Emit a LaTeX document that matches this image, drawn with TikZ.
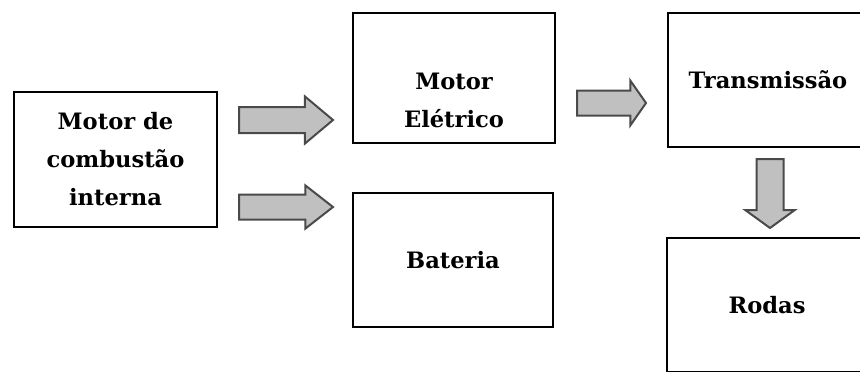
\documentclass[tikz,border=0pt]{standalone}
\usepackage{fontspec}
\setmainfont{DejaVu Serif}
\usetikzlibrary{shapes.arrows}
\definecolor{arrfill}{HTML}{C0C0C0}
\definecolor{arrline}{HTML}{4A4A4A}

\begin{document}
\begin{tikzpicture}[x=0.5pt, y=-0.5pt,
  txt/.style={align=center, font=\fontsize{11.3}{19}\selectfont\bfseries, inner sep=0pt},
  box/.style={txt, draw, line width=1.1pt, fill=white,
              minimum width=100pt, minimum height=67pt},
  blk/.style={single arrow, draw=arrline, fill=arrfill, line width=1pt,
              inner xsep=0pt, minimum width=1pt, anchor=tail},
]
\clip (0,0) rectangle (860,371);
% left column
\node[box, minimum width=101.5pt, minimum height=67.5pt] (mci) at (115.5,159.5) {Motor de\\combustão\\interna};
% middle column
\node[box, minimum width=101pt, minimum height=65pt] (mel) at (454,78) {};
\node[txt] (meltxt) at (454,100) {Motor\\Elétrico};
\node[box] (bat) at (453,260) {Bateria};
% right column
\node[box] (tra) at (768,80) {Transmissão};
\node[box] (rod) at (767,305) {Rodas};
% block arrows
\node[blk, minimum height=47pt, inner ysep=6pt, single arrow head extend=5.25pt, single arrow tip angle=80] (a1) at (238,120) {};
\node[blk, minimum height=47pt, inner ysep=5.75pt, single arrow head extend=4.5pt, single arrow tip angle=76] (a2) at (238,207) {};
\node[blk, minimum height=34.5pt, inner ysep=5.75pt, single arrow head extend=5pt, single arrow tip angle=110] (a3) at (576,103) {};
\node[blk, minimum height=34.5pt, inner ysep=0pt, inner xsep=6.25pt, single arrow head extend=5.5pt, single arrow tip angle=108, shape border rotate=270] (a4) at (770,158) {};
\end{tikzpicture}
\end{document}
